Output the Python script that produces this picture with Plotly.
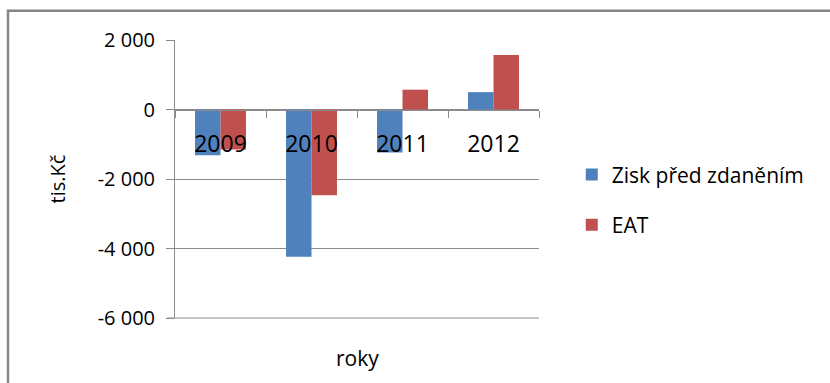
import plotly.graph_objects as go

years = ["2009", "2010", "2011", "2012"]
zisk = [-1320, -4240, -1240, 500]
eat = [-1150, -2470, 570, 1570]
ytick_vals = [2000, 0, -2000, -4000, -6000]
ytick_text = ["2 000", "0", "-2 000", "-4 000", "-6 000"]

FONT = "Open Sans"
GRID = "#8c8c8c"

fig = go.Figure()
fig.add_trace(go.Bar(x=years, y=zisk, name="Zisk před zdaněním",
                     marker=dict(color="#4F81BD", line=dict(width=0)),
                     legendgroup="a"))
fig.add_trace(go.Bar(x=years, y=eat, name="EAT",
                     marker=dict(color="#C0504D", line=dict(width=0)),
                     legendgroup="b"))

fig.update_layout(
    width=830, height=383,
    margin=dict(l=175, r=291, t=40, b=64.7),
    paper_bgcolor="white", plot_bgcolor="white",
    barmode="group", bargap=0.44, bargroupgap=0,
    font=dict(family=FONT, color="#000000"),
    legend=dict(x=1.09, xanchor="left", y=0.425, yanchor="middle",
                font=dict(size=21, family=FONT), tracegroupgap=20,
                itemwidth=30, bgcolor="rgba(0,0,0,0)"),
    xaxis=dict(anchor="free", position=0.75, showline=True, linecolor=GRID,
               linewidth=1, ticks="outside", tickson="boundaries", ticklen=7,
               tickcolor=GRID, showgrid=False, zeroline=False,
               tickfont=dict(size=23, family=FONT), ticklabelstandoff=14),
    yaxis=dict(range=[-6000, 2000], tickvals=ytick_vals, ticktext=ytick_text,
               showgrid=True, gridcolor=GRID, gridwidth=1, zeroline=False,
               showline=True, linecolor=GRID, linewidth=1,
               ticks="outside", ticklen=8, tickcolor=GRID,
               tickfont=dict(size=20, family=FONT), ticklabelstandoff=7,
               title=dict(text="tis.Kč", font=dict(size=20, family=FONT), standoff=26)),
    annotations=[dict(text="roky", xref="paper", yref="paper", x=0.5, y=-0.143,
                      xanchor="center", yanchor="middle", showarrow=False,
                      font=dict(size=21, family=FONT))],
    shapes=[dict(type="path", xref="paper", yref="paper",
                 path="M -0.4588,-0.3 L -0.4588,1.105 L 1.9,1.105",
                 line=dict(color="#868686", width=2.5)),
            dict(type="line", xref="paper", yref="paper", x0=-0.022, x1=1,
                 y0=0, y1=0, line=dict(color=GRID, width=1))],
)

fig.write_html("out.html")
